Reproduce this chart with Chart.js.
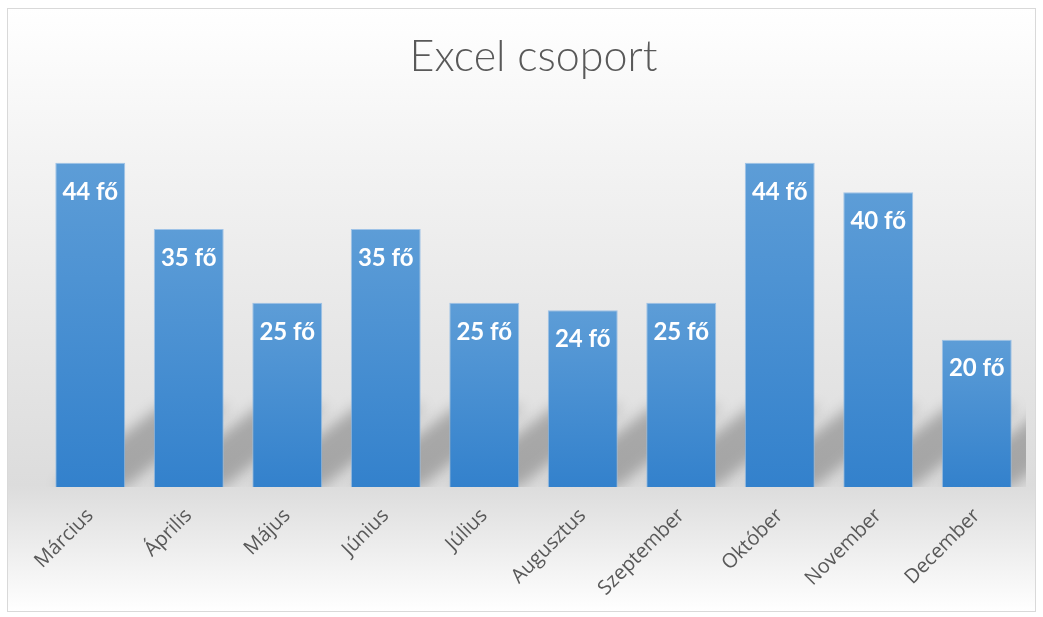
<!DOCTYPE html>
<html>
<head>
<meta charset="utf-8">
<script src="https://cdn.jsdelivr.net/npm/chart.js"></script>
<style>
  html, body { margin: 0; padding: 0; background: #fff; }
  #wrap { width: 1043px; height: 617px; }
</style>
</head>
<body>
<div id="wrap"><canvas id="chart" width="1043" height="617"></canvas></div>
<script>
var months = ['Március', 'Április', 'Május', 'Június', 'Július', 'Augusztus', 'Szeptember', 'Október', 'November', 'December'];
var people = [44, 35, 25, 35, 25, 24, 25, 44, 40, 20];
var unit = ' fő';

// panel background with soft grey band and thin frame
var backgroundPlugin = {
  id: 'panelBg',
  beforeDraw: function(chart) {
    var ctx = chart.ctx;
    ctx.save();
    ctx.fillStyle = '#ffffff';
    ctx.fillRect(0, 0, chart.width, chart.height);
    var g = ctx.createLinearGradient(0, 8, 0, 612);
    g.addColorStop(0, '#ffffff');
    g.addColorStop(0.25, '#f3f3f3');
    g.addColorStop(0.79, '#dcdcdc');
    g.addColorStop(1, '#ffffff');
    ctx.fillStyle = g;
    ctx.fillRect(7.5, 8.5, 1028, 603);
    ctx.strokeStyle = '#d9d9d9';
    ctx.lineWidth = 1;
    ctx.strokeRect(7.5, 8.5, 1028, 603);
    ctx.restore();
  }
};

// slanted perspective shadow behind each bar
var shadowPlugin = {
  id: 'barShadow',
  beforeDatasetsDraw: function(chart) {
    var ctx = chart.ctx;
    var area = chart.chartArea;
    var meta = chart.getDatasetMeta(0);
    ctx.save();
    ctx.beginPath();
    ctx.rect(area.left, area.top, area.right - area.left, area.bottom - area.top);
    ctx.clip();
    ctx.filter = 'blur(7px)';
    ctx.fillStyle = 'rgba(0,0,0,0.25)';
    meta.data.forEach(function(bar) {
      var half = bar.width / 2;
      var base = bar.base;
      var h = Math.min(80, base - bar.y);
      var dx = h * 1.3;
      ctx.beginPath();
      ctx.moveTo(bar.x - half, base);
      ctx.lineTo(bar.x + half, base);
      ctx.lineTo(bar.x + half + dx, base - h);
      ctx.lineTo(bar.x - half + dx, base - h);
      ctx.closePath();
      ctx.fill();
    });
    ctx.restore();
  }
};

// white value labels inside the bar tops
var valueLabels = {
  id: 'valueLabels',
  afterDatasetsDraw: function(chart) {
    var ctx = chart.ctx;
    var meta = chart.getDatasetMeta(0);
    ctx.save();
    ctx.fillStyle = '#ffffff';
    ctx.font = 'bold 24px Lato';
    ctx.textAlign = 'center';
    ctx.textBaseline = 'middle';
    meta.data.forEach(function(bar, i) {
      ctx.fillText(people[i] + unit, bar.x, bar.y + 29);
    });
    ctx.restore();
  }
};

function barGradient(context) {
  var chart = context.chart;
  if (!chart.chartArea || context.raw === undefined) return '#4a8fd2';
  var y = chart.scales.y;
  var top = y.getPixelForValue(context.raw);
  var bottom = y.getPixelForValue(0);
  var g = chart.ctx.createLinearGradient(0, top, 0, bottom);
  g.addColorStop(0, '#5d9dd7');
  g.addColorStop(1, '#3381cc');
  return g;
}

var chart = new Chart(document.getElementById('chart'), {
  type: 'bar',
  data: {
    labels: months,
    datasets: [{
      data: people,
      backgroundColor: barGradient,
      borderColor: 'rgba(150,190,230,0.9)',
      borderWidth: 1,
      categoryPercentage: 1,
      barPercentage: 0.71
    }]
  },
  options: {
    responsive: false,
    animation: false,
    layout: { padding: { left: 41, right: 17, top: 0, bottom: 0 } },
    plugins: {
      legend: { display: false },
      tooltip: { enabled: false },
      title: {
        display: true,
        text: 'Excel csoport',
        color: '#595959',
        font: { family: 'Lato', size: 43, weight: '300', lineHeight: 1.2 },
        padding: { top: 31, bottom: 36 }
      }
    },
    scales: {
      x: {
        grid: { display: false, drawTicks: false },
        border: { display: false },
        ticks: {
          color: '#595959',
          font: { family: 'Open Sans', size: 20 },
          maxRotation: 45,
          minRotation: 45,
          padding: 17
        },
        afterFit: function(scale) { scale.height = 130; }
      },
      y: {
        display: false,
        min: 0,
        max: 50
      }
    }
  },
  plugins: [backgroundPlugin, shadowPlugin, valueLabels]
});
</script>
</body>
</html>
